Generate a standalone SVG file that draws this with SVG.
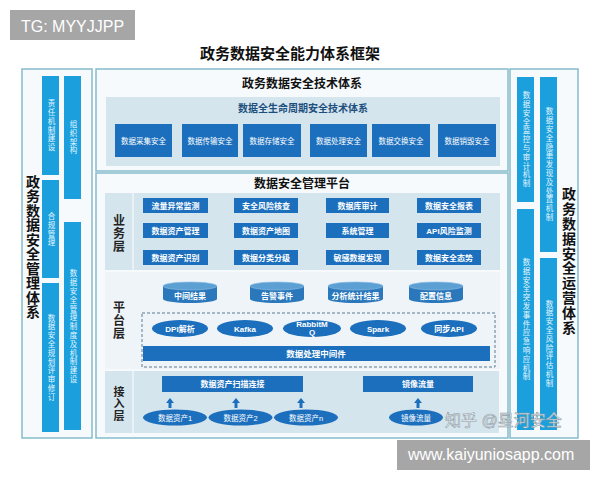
<svg xmlns="http://www.w3.org/2000/svg" width="600" height="480" viewBox="0 0 600 480">
<defs>
<style>
text{font-family:"Liberation Sans","Noto Sans CJK SC",sans-serif}
.panel{fill:#f6fafc;stroke:#86bccb;stroke-width:1.5}
.vbox{fill:#1ba0dd}
.vt{writing-mode:vertical-rl;text-anchor:middle;font-size:7.5px;letter-spacing:1.3px;fill:#e8f6fd}
.vtitle{writing-mode:vertical-rl;text-anchor:middle;font-size:14px;font-weight:bold;fill:#111}
.bl{fill:#d5e5ee}
.db{fill:#1c6fbd}
.wt{fill:#fff;font-size:8px;text-anchor:middle;font-weight:bold}
.wt2{fill:#fff;font-size:7.5px;text-anchor:middle}
.hdr{font-size:12px;font-weight:bold;text-anchor:middle;fill:#111}
.lay{font-size:12px;font-weight:bold;text-anchor:middle;fill:#222}
.lay2{font-size:11px;font-weight:bold;text-anchor:middle;fill:#222}
.cyl{fill:#2a78bb}
.cyltop{fill:#5c9fd3;stroke:#8fc0e6;stroke-width:0.6}
.arr{stroke:#1c6fbd;stroke-width:3;marker-end:url(#up)}
</style>
<marker id="up" viewBox="0 0 5 8" refX="0" refY="4" markerWidth="5" markerHeight="8" markerUnits="userSpaceOnUse" orient="auto">
<path d="M0,0 L5,4 L0,8 z" fill="#1c6fbd"/>
</marker>
</defs>
<rect width="600" height="480" fill="#fff"/>

<g id="watermark-tg">
<rect x="10" y="10" width="125" height="30" fill="#a6a6a6"/>
<text x="21" y="32" font-size="16" fill="#fff">TG: MYYJJPP</text>
</g>

<text x="290" y="59" font-size="15" font-weight="bold" text-anchor="middle" fill="#111">政务数据安全能力体系框架</text>

<g id="left-panel">
<rect class="panel" x="22" y="69" width="70" height="369"/>
<text class="vtitle" x="32" y="247" style="letter-spacing:0.5px">政务数据安全管理体系</text>
<g id="l1"><rect class="vbox" x="42" y="76" width="17" height="99"/><text class="vt" x="50.5" y="126">责任机制建设</text></g>
<g id="l2"><rect class="vbox" x="64" y="76" width="17" height="123"/><text class="vt" x="72.5" y="138">组织架构</text></g>
<g id="l3"><rect class="vbox" x="42" y="180" width="17" height="98"/><text class="vt" x="50.5" y="230">合规管理</text></g>
<g id="l4"><rect class="vbox" x="64" y="222" width="17" height="208"/><text class="vt" x="72.5" y="327">数据安全管理制度及机制建设</text></g>
<g id="l5"><rect class="vbox" x="42" y="283" width="17" height="149"/><text class="vt" x="50.5" y="358">数据安全规划评审修订</text></g>
</g>

<g id="right-panel">
<rect class="panel" x="510" y="69" width="68" height="369"/>
<text class="vtitle" x="568" y="261" style="letter-spacing:0.8px">政务数据安全运营体系</text>
<g id="r1"><rect class="vbox" x="517" y="77" width="17" height="125"/><text class="vt" x="525.5" y="140">数据安全监控与审计机制</text></g>
<g id="r2"><rect class="vbox" x="540" y="77" width="17" height="175"/><text class="vt" x="548.5" y="165">数据安全隐患发现及处置机制</text></g>
<g id="r3"><rect class="vbox" x="517" y="209" width="17" height="221"/><text class="vt" x="525.5" y="320">数据安全突发事件应急响应机制</text></g>
<g id="r4"><rect class="vbox" x="540" y="258" width="17" height="172"/><text class="vt" x="548.5" y="344">数据安全风险评估机制</text></g>
</g>

<g id="tech-system">
<rect class="panel" x="96" y="69" width="412" height="102"/>
<text class="hdr" x="302" y="88">政务数据安全技术体系</text>
<rect class="bl" x="106" y="97" width="394" height="69"/>
<text x="303" y="112" font-size="10" font-weight="bold" text-anchor="middle" fill="#1d4f7d">数据全生命周期安全技术体系</text>
<g id="t1"><rect class="db" x="115" y="124" width="57" height="33"/><text class="wt2" x="143.5" y="143.5">数据采集安全</text></g>
<g id="t2"><rect class="db" x="182" y="124" width="56" height="33"/><text class="wt2" x="210" y="143.5">数据传输安全</text></g>
<g id="t3"><rect class="db" x="243" y="124" width="58" height="33"/><text class="wt2" x="272" y="143.5">数据存储安全</text></g>
<g id="t4"><rect class="db" x="310" y="124" width="57" height="33"/><text class="wt2" x="338.5" y="143.5">数据处理安全</text></g>
<g id="t5"><rect class="db" x="372" y="124" width="58" height="33"/><text class="wt2" x="401" y="143.5">数据交换安全</text></g>
<g id="t6"><rect class="db" x="438" y="124" width="58" height="33"/><text class="wt2" x="467" y="143.5">数据销毁安全</text></g>
</g>

<g id="platform">
<rect class="panel" x="96" y="173" width="412" height="265"/>
<text class="hdr" x="302" y="188">数据安全管理平台</text>

<rect class="bl" x="105" y="193" width="395" height="77"/>
<line x1="133" y1="193" x2="133" y2="270" stroke="#eef5f9" stroke-width="1.5"/>
<text class="lay" x="119" y="225">业</text>
<text class="lay" x="119" y="238">务</text>
<text class="lay" x="119" y="251">层</text>

<g id="b11"><rect class="db" x="143" y="198" width="65" height="15"/><text class="wt" x="175.5" y="208.5">流量异常监测</text></g>
<g id="b12"><rect class="db" x="234" y="198" width="64" height="15"/><text class="wt" x="266" y="208.5">安全风险核查</text></g>
<g id="b13"><rect class="db" x="326" y="198" width="63" height="15"/><text class="wt" x="357.5" y="208.5">数据库审计</text></g>
<g id="b14"><rect class="db" x="417" y="198" width="64" height="15"/><text class="wt" x="449" y="208.5">数据安全报表</text></g>
<g id="b21"><rect class="db" x="143" y="223" width="65" height="15"/><text class="wt" x="175.5" y="233.5">数据资产管理</text></g>
<g id="b22"><rect class="db" x="234" y="223" width="64" height="15"/><text class="wt" x="266" y="233.5">数据资产地图</text></g>
<g id="b23"><rect class="db" x="326" y="223" width="63" height="15"/><text class="wt" x="357.5" y="233.5">系统管理</text></g>
<g id="b24"><rect class="db" x="417" y="223" width="64" height="15"/><text class="wt" x="449" y="233.5">API风险监测</text></g>
<g id="b31"><rect class="db" x="143" y="250" width="65" height="15"/><text class="wt" x="175.5" y="260.5">数据资产识别</text></g>
<g id="b32"><rect class="db" x="234" y="250" width="64" height="15"/><text class="wt" x="266" y="260.5">数据分类分级</text></g>
<g id="b33"><rect class="db" x="326" y="250" width="63" height="15"/><text class="wt" x="357.5" y="260.5">敏感数据发现</text></g>
<g id="b34"><rect class="db" x="417" y="250" width="64" height="15"/><text class="wt" x="449" y="260.5">数据安全态势</text></g>

<rect x="105" y="272" width="395" height="97" fill="#eef4f8"/>
<text class="lay" x="119" y="312">平</text>
<text class="lay" x="119" y="325">台</text>
<text class="lay" x="119" y="338">层</text>

<g id="c1"><path class="cyl" d="M163,286 V299 A27,4 0 0 0 217,299 V286 Z"/><ellipse class="cyltop" cx="190" cy="286" rx="27" ry="4"/><text class="wt" x="190" y="299">中间结果</text></g>
<g id="c2"><path class="cyl" d="M250,286 V299 A27,4 0 0 0 304,299 V286 Z"/><ellipse class="cyltop" cx="277" cy="286" rx="27" ry="4"/><text class="wt" x="277" y="299">告警事件</text></g>
<g id="c3"><path class="cyl" d="M328,286 V299 A27.5,4 0 0 0 383,299 V286 Z"/><ellipse class="cyltop" cx="355.5" cy="286" rx="27.5" ry="4"/><text class="wt" x="355.5" y="299">分析统计结果</text></g>
<g id="c4"><path class="cyl" d="M409,286 V299 A27,4 0 0 0 463,299 V286 Z"/><ellipse class="cyltop" cx="436" cy="286" rx="27" ry="4"/><text class="wt" x="436" y="299">配置信息</text></g>

<rect x="142" y="313" width="353" height="54" fill="none" stroke="#5d7b92" stroke-width="1" stroke-dasharray="3,2"/>
<g id="e1"><ellipse class="db" cx="180" cy="328.5" rx="28" ry="8.5"/><text class="wt" x="180" y="331.5">DPI解析</text></g>
<g id="e2"><ellipse class="db" cx="245" cy="328.5" rx="28" ry="8.5"/><text class="wt" x="245" y="331.5">Kafka</text></g>
<g id="e3"><ellipse class="db" cx="312" cy="328.5" rx="29" ry="8.5"/><text class="wt" x="312" y="326.5">RabbitM</text><text class="wt" x="312" y="335">Q</text></g>
<g id="e4"><ellipse class="db" cx="378" cy="328.5" rx="28" ry="8.5"/><text class="wt" x="378" y="331.5">Spark</text></g>
<g id="e5"><ellipse class="db" cx="449" cy="328.5" rx="28" ry="8.5"/><text class="wt" x="449" y="331.5">同步API</text></g>
<g id="mw"><rect class="db" x="143" y="346" width="347" height="15"/><text class="wt" x="316" y="357" style="font-size:8.5px">数据处理中间件</text></g>

<rect class="bl" x="105" y="371" width="394" height="62"/>
<line x1="133" y1="371" x2="133" y2="433" stroke="#eef5f9" stroke-width="1.5"/>
<text class="lay2" x="119" y="396">接</text>
<text class="lay2" x="119" y="408">入</text>
<text class="lay2" x="119" y="420">层</text>

<g id="scan"><rect class="db" x="162" y="376" width="141" height="16"/><text class="wt" x="232.5" y="387">数据资产扫描连接</text></g>
<g id="mirror"><rect class="db" x="363" y="376" width="110" height="16"/><text class="wt" x="418" y="387">镜像流量</text></g>
<g id="a1"><ellipse class="db" cx="175" cy="417.5" rx="32" ry="8"/><text class="wt2" x="175" y="420.5">数据资产1</text></g>
<g id="a2"><ellipse class="db" cx="240.5" cy="417.5" rx="32" ry="8"/><text class="wt2" x="240.5" y="420.5">数据资产2</text></g>
<g id="a3"><ellipse class="db" cx="306" cy="417.5" rx="32" ry="8"/><text class="wt2" x="306" y="420.5">数据资产n</text></g>
<g id="a4"><ellipse class="db" cx="416" cy="417.5" rx="27" ry="8"/><text class="wt2" x="416" y="420.5">镜像流量</text></g>
</g>

<g id="connectors">
<line class="arr" x1="170" y1="408" x2="170" y2="403"/>
<line class="arr" x1="236" y1="408" x2="236" y2="403"/>
<line class="arr" x1="301" y1="408" x2="301" y2="403"/>
<line class="arr" x1="418" y1="408" x2="418" y2="403"/>
</g>

<text x="445" y="426" font-size="16" fill="#ffffff" fill-opacity="0.9" stroke="#8c9aa4" stroke-width="0.6">知乎 @星河安全</text>

<g id="watermark-url">
<rect x="397" y="440" width="193" height="30" fill="#a6a6a6"/>
<text x="408" y="460" font-size="16" fill="#fff">www.kaiyuniosapp.com</text>
</g>
</svg>
